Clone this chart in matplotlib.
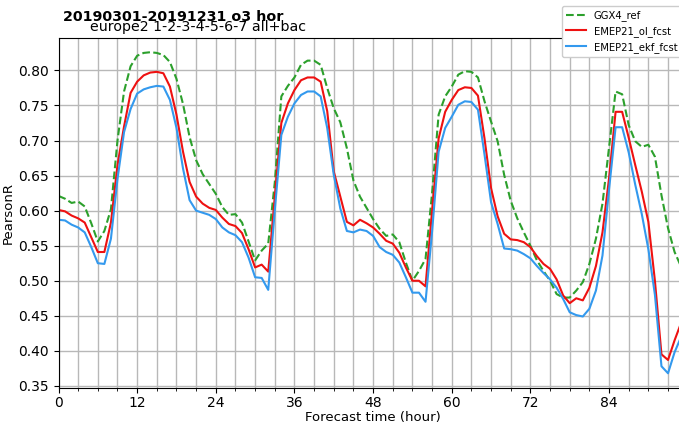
import matplotlib
matplotlib.use("Agg")
import matplotlib.pyplot as plt
from matplotlib.ticker import MultipleLocator
import numpy as np

hours = np.arange(0, 96)

ggx4_ref = [0.621, 0.617, 0.611, 0.613, 0.606, 0.582, 0.556, 0.571, 0.602, 0.700,
            0.770, 0.806, 0.821, 0.825, 0.826, 0.825, 0.822, 0.812, 0.788, 0.752,
            0.705, 0.672, 0.652, 0.638, 0.624, 0.605, 0.594, 0.595, 0.583, 0.556,
            0.529, 0.543, 0.553, 0.640, 0.763, 0.778, 0.790, 0.808, 0.814, 0.814,
            0.808, 0.775, 0.746, 0.726, 0.689, 0.643, 0.620, 0.604, 0.588, 0.574,
            0.564, 0.566, 0.555, 0.526, 0.500, 0.514, 0.531, 0.625, 0.737, 0.763,
            0.777, 0.794, 0.799, 0.798, 0.790, 0.756, 0.727, 0.699, 0.651, 0.614,
            0.589, 0.569, 0.550, 0.529, 0.514, 0.500, 0.481, 0.476, 0.476, 0.486,
            0.498, 0.524, 0.560, 0.610, 0.690, 0.770, 0.766, 0.722, 0.699, 0.691,
            0.694, 0.677, 0.622, 0.575, 0.541, 0.520]

emep21_ol_fcst = [0.601, 0.599, 0.593, 0.589, 0.583, 0.562, 0.541, 0.541, 0.583, 0.665,
                  0.720, 0.768, 0.784, 0.793, 0.797, 0.798, 0.796, 0.777, 0.737, 0.684,
                  0.641, 0.620, 0.610, 0.604, 0.601, 0.590, 0.581, 0.578, 0.568, 0.545,
                  0.519, 0.523, 0.513, 0.620, 0.725, 0.753, 0.772, 0.786, 0.790, 0.790,
                  0.784, 0.742, 0.656, 0.620, 0.584, 0.579, 0.587, 0.582, 0.576, 0.567,
                  0.557, 0.553, 0.540, 0.519, 0.500, 0.500, 0.492, 0.600, 0.703, 0.741,
                  0.758, 0.772, 0.776, 0.775, 0.764, 0.703, 0.632, 0.592, 0.567, 0.559,
                  0.558, 0.555, 0.548, 0.535, 0.524, 0.517, 0.502, 0.479, 0.468, 0.475,
                  0.472, 0.490, 0.521, 0.569, 0.646, 0.741, 0.741, 0.704, 0.665, 0.627,
                  0.584, 0.500, 0.395, 0.387, 0.415, 0.440]

emep21_ekf_fcst = [0.587, 0.586, 0.580, 0.576, 0.569, 0.548, 0.525, 0.524, 0.560, 0.645,
                   0.712, 0.745, 0.767, 0.773, 0.776, 0.778, 0.777, 0.758, 0.718, 0.660,
                   0.615, 0.600, 0.597, 0.594, 0.588, 0.576, 0.569, 0.565, 0.555, 0.533,
                   0.505, 0.504, 0.487, 0.600, 0.708, 0.734, 0.753, 0.765, 0.770, 0.770,
                   0.763, 0.718, 0.651, 0.603, 0.571, 0.569, 0.573, 0.571, 0.564, 0.548,
                   0.541, 0.537, 0.526, 0.505, 0.483, 0.483, 0.470, 0.570, 0.684, 0.718,
                   0.734, 0.751, 0.756, 0.755, 0.744, 0.680, 0.612, 0.581, 0.546, 0.545,
                   0.543, 0.538, 0.532, 0.521, 0.511, 0.502, 0.490, 0.474, 0.455, 0.451,
                   0.449, 0.460, 0.486, 0.536, 0.630, 0.719, 0.719, 0.683, 0.637, 0.595,
                   0.545, 0.480, 0.378, 0.368, 0.398, 0.420]

W, H = 679, 425
fig = plt.figure(figsize=(W / 100, H / 100), dpi=100)
# axes runs past the right edge of the figure like in the original
ax = fig.add_axes([58.5 / W, (H - 388) / H, 96 * 6.554 / W, (388 - 37.5) / H])

ax.plot(hours, ggx4_ref, color="#2ca02c", ls="--", lw=1.5, label="GGX4_ref")
ax.plot(hours, emep21_ol_fcst, color="#ee1111", lw=1.5, label="EMEP21_ol_fcst")
ax.plot(hours, emep21_ekf_fcst, color="#3399ee", lw=1.5, label="EMEP21_ekf_fcst")

ax.set_xlim(0, 96)
ax.set_ylim(0.347, 0.847)
ax.xaxis.set_major_locator(MultipleLocator(12))
ax.xaxis.set_minor_locator(MultipleLocator(3))
ax.yaxis.set_major_locator(MultipleLocator(0.05))
ax.grid(True, which="both", color="#b8b8b8", lw=1)
ax.set_axisbelow(True)
ax.tick_params(labelsize=10)
ax.tick_params(axis="x", pad=2)
ax.set_xlabel("Forecast time (hour)", fontsize=9.5, labelpad=1)
ax.set_ylabel("PearsonR", fontsize=9.5, labelpad=2)

fig.text(63 / W, 1 - 17 / H, "20190301-20191231 o3 hor", fontsize=10.3,
         fontweight="bold", va="center", ha="left")
fig.text(90 / W, 1 - 27 / H, "europe2 1-2-3-4-5-6-7 all+bac", fontsize=10.2,
         va="center", ha="left")

fig.legend(loc="upper left", bbox_to_anchor=(562 / W, 1 - 6 / H), fontsize=7.2,
           framealpha=1, borderaxespad=0)

fig.savefig("out.png", dpi=100)
